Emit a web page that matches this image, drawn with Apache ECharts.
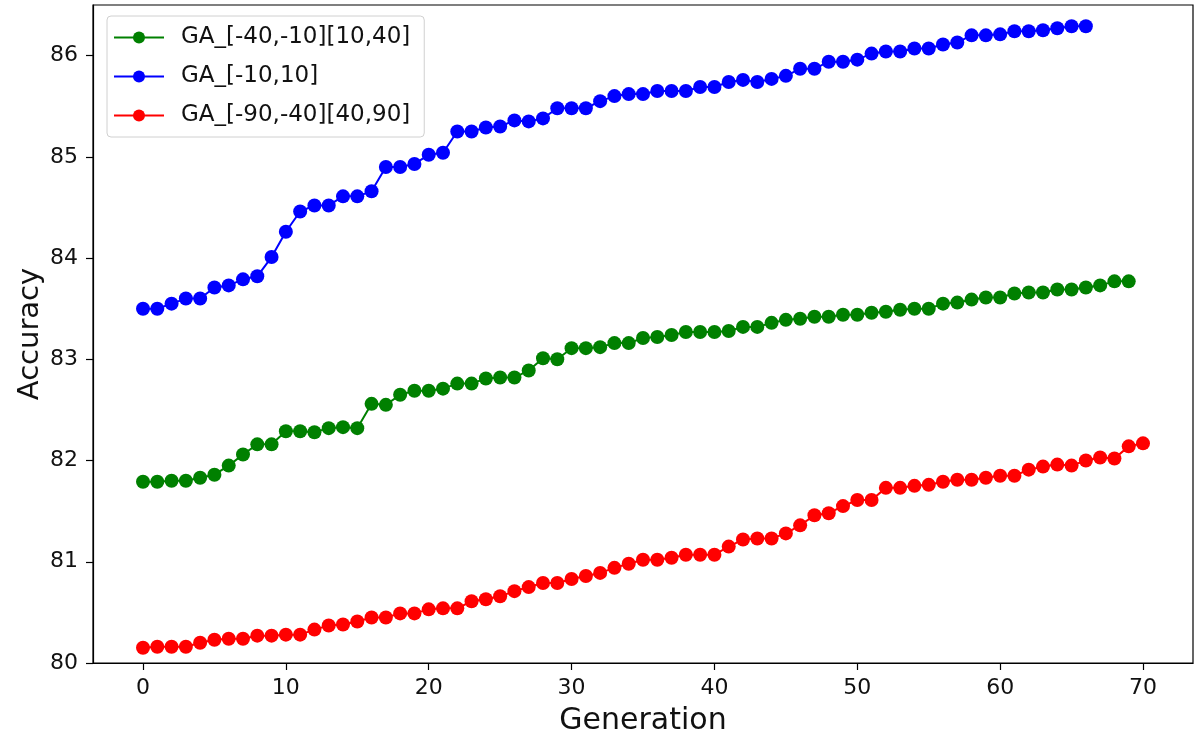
<!DOCTYPE html>
<html>
<head>
<meta charset="utf-8">
<script src="https://cdn.jsdelivr.net/npm/echarts@6/dist/echarts.min.js"></script>
<style>html,body{margin:0;padding:0;background:#fff}#c{width:1194px;height:737px}</style>
</head>
<body>
<div id="c"></div>
<script>
const seriesNames = ['GA_[-40,-10][10,40]', 'GA_[-10,10]', 'GA_[-90,-40][40,90]'];
const greenVals = [81.79, 81.79, 81.80, 81.80, 81.83, 81.86, 81.95, 82.06, 82.16, 82.16,
  82.29, 82.29, 82.28, 82.32, 82.33, 82.32, 82.56, 82.55, 82.65, 82.69,
  82.69, 82.71, 82.76, 82.76, 82.81, 82.82, 82.82, 82.89, 83.01, 83.00,
  83.11, 83.11, 83.12, 83.16, 83.16, 83.21, 83.22, 83.24, 83.27, 83.27,
  83.27, 83.28, 83.32, 83.32, 83.36, 83.39, 83.40, 83.42, 83.42, 83.44,
  83.44, 83.46, 83.47, 83.49, 83.50, 83.50, 83.55, 83.56, 83.59, 83.61,
  83.61, 83.65, 83.66, 83.66, 83.69, 83.69, 83.71, 83.73, 83.77, 83.77];
const blueVals = [83.50, 83.50, 83.55, 83.60, 83.60, 83.71, 83.73, 83.79, 83.82, 84.01,
  84.26, 84.46, 84.52, 84.52, 84.61, 84.61, 84.66, 84.90, 84.90, 84.93,
  85.02, 85.04, 85.25, 85.25, 85.29, 85.30, 85.36, 85.35, 85.38, 85.48,
  85.48, 85.48, 85.55, 85.60, 85.62, 85.62, 85.65, 85.65, 85.65, 85.69,
  85.69, 85.74, 85.76, 85.74, 85.77, 85.80, 85.87, 85.87, 85.94, 85.94,
  85.96, 86.02, 86.04, 86.04, 86.07, 86.07, 86.11, 86.13, 86.20, 86.20,
  86.21, 86.24, 86.24, 86.25, 86.27, 86.29, 86.29];
const redVals = [80.15, 80.16, 80.16, 80.16, 80.20, 80.23, 80.24, 80.24, 80.27, 80.27,
  80.28, 80.28, 80.33, 80.37, 80.38, 80.41, 80.45, 80.45, 80.49, 80.49,
  80.53, 80.54, 80.54, 80.61, 80.63, 80.66, 80.71, 80.75, 80.79, 80.79,
  80.83, 80.86, 80.89, 80.94, 80.98, 81.02, 81.02, 81.04, 81.07, 81.07,
  81.07, 81.15, 81.22, 81.23, 81.23, 81.28, 81.36, 81.46, 81.48, 81.55,
  81.61, 81.61, 81.73, 81.73, 81.75, 81.76, 81.79, 81.81, 81.81, 81.83,
  81.85, 81.85, 81.91, 81.94, 81.96, 81.95, 82.00, 82.03, 82.02, 82.14,
  82.17];
const xTicks = [0, 10, 20, 30, 40, 50, 60, 70];
const yTicks = [80, 81, 82, 83, 84, 85, 86];

const colors = ['#008000', '#0000ff', '#ff0000'];
const allVals = [greenVals, blueVals, redVals];
const font = 'DejaVu Sans';

const chart = echarts.init(document.getElementById('c'), null, {renderer: 'canvas'});
chart.setOption({
  animation: false,
  backgroundColor: '#fff',
  grid: {left: 93, right: 1, top: 5, bottom: 74, show: true, borderColor: '#000', borderWidth: 1.2,
    backgroundColor: 'transparent', containLabel: false, outerBoundsMode: 'none'},
  legend: {
    orient: 'vertical', left: 107, top: 16,
    data: seriesNames,
    backgroundColor: 'rgba(255,255,255,0.8)', borderColor: '#d0d0d0', borderWidth: 1, borderRadius: 4,
    padding: [10, 14, 10, 6], itemGap: 16, itemWidth: 50, itemHeight: 15,
    textStyle: {fontFamily: font, fontSize: 23, color: '#111', padding: [0, 0, 0, 12]}
  },
  xAxis: {
    type: 'value', min: -3.5, max: 73.5,
    name: 'Generation', nameLocation: 'middle', nameGap: 43, nameMoveOverlap: false,
    nameTextStyle: {fontFamily: font, fontSize: 30, color: '#111'},
    axisLine: {show: true, onZero: false, lineStyle: {color: '#000', width: 1.2}},
    axisTick: {show: true, inside: false, length: 7, lineStyle: {color: '#000', width: 1.2}, customValues: xTicks},
    axisLabel: {fontFamily: font, fontSize: 22, color: '#111', margin: 14, customValues: xTicks},
    splitLine: {show: false}
  },
  yAxis: {
    type: 'value', min: 80, max: 86.5,
    name: 'Accuracy', nameLocation: 'middle', nameGap: 48, nameMoveOverlap: false,
    nameTextStyle: {fontFamily: font, fontSize: 29, color: '#111'},
    axisLine: {show: true, onZero: false, lineStyle: {color: '#000', width: 1.2}},
    axisTick: {show: true, inside: false, length: 7, lineStyle: {color: '#000', width: 1.2}, customValues: yTicks},
    axisLabel: {fontFamily: font, fontSize: 22, color: '#111', margin: 15, customValues: yTicks},
    splitLine: {show: false}
  },
  series: seriesNames.map((n, k) => ({
    name: n, type: 'line',
    data: allVals[k].map((v, i) => [i, v]),
    symbol: 'circle', symbolSize: 14, showSymbol: true,
    lineStyle: {color: colors[k], width: 2},
    itemStyle: {color: colors[k]},
    emphasis: {disabled: true}
  }))
});
</script>
</body>
</html>
